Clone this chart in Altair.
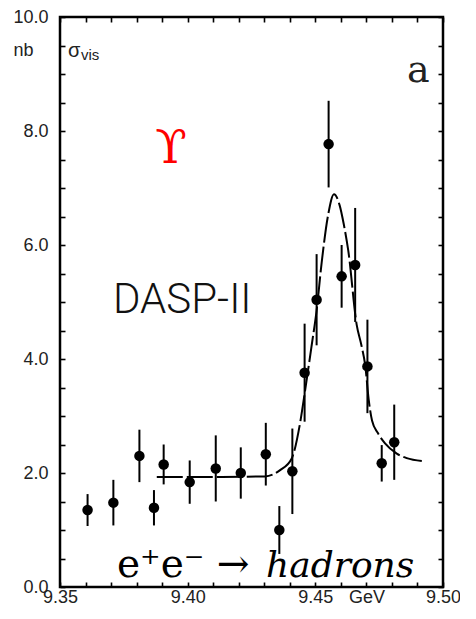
import altair as alt
import pandas as pd

# measured points (mass in GeV, visible cross section in nb, error)
mass = [9.3608, 9.3709, 9.3811, 9.3868, 9.3906, 9.4008, 9.4110, 9.4208, 9.4306,
        9.4359, 9.4410, 9.4458, 9.4505, 9.4552, 9.4603, 9.4656, 9.4704, 9.4760, 9.4809]
sigma = [1.35, 1.48, 2.30, 1.39, 2.15, 1.84, 2.08, 2.00, 2.33,
         1.00, 2.03, 3.76, 5.04, 7.77, 5.45, 5.65, 3.87, 2.17, 2.54]
err = [0.28, 0.40, 0.46, 0.31, 0.35, 0.38, 0.58, 0.45, 0.55,
       0.42, 0.75, 0.86, 0.80, 0.76, 0.55, 1.00, 0.82, 0.32, 0.66]

# fitted curve
fit_mass = [9.3879, 9.4100, 9.4303, 9.4362, 9.4407, 9.4440, 9.4460, 9.4486, 9.4505,
            9.4525, 9.4551, 9.4573, 9.4595, 9.4612, 9.4629, 9.4662, 9.4680, 9.4695,
            9.4710, 9.4722, 9.4745, 9.4773, 9.4819, 9.4858, 9.4917]
fit_sigma = [1.93, 1.93, 1.94, 2.05, 2.25, 2.87, 3.45, 4.25, 4.85,
             5.70, 6.55, 6.89, 6.70, 6.35, 5.90, 4.60, 4.25, 3.90,
             3.25, 2.92, 2.70, 2.52, 2.34, 2.26, 2.21]

x_ticks = [9.35, 9.36, 9.37, 9.38, 9.39, 9.40, 9.41, 9.42, 9.43, 9.44,
           9.45, 9.46, 9.47, 9.48, 9.49, 9.50]
y_ticks = [0.0, 0.5, 1.0, 1.5, 2.0, 2.5, 3.0, 3.5, 4.0, 4.5, 5.0, 5.5, 6.0, 6.5,
           7.0, 7.5, 8.0, 8.5, 9.0, 9.5, 10.0]

pts = pd.DataFrame({"m": mass, "s": sigma, "e": err})
pts["lo"] = pts["s"] - pts["e"]
pts["hi"] = pts["s"] + pts["e"]
fit = pd.DataFrame({"m": fit_mass, "s": fit_sigma})

W, H = 383, 570
XDOM = [9.35, 9.50]
YDOM = [0, 10]
AXFONT = "Liberation Sans"

xs = alt.Scale(domain=XDOM, nice=False, zero=False)
ys = alt.Scale(domain=YDOM, nice=False, zero=False)

tick_common = dict(domain=False, grid=False, offset=-5, tickSize=5, tickWidth=1.6,
                   tickColor="black")

NB = "'\u00a0\u00a0\u00a0\u00a0'"
x_bottom = alt.Axis(orient="bottom", values=x_ticks, title=None,
                    labelExpr=(f"round(datum.value*100) == 950 ? format(datum.value, '.2f') + '\u00a0' : "
                               f"(abs(round(datum.value*100) % 5) == 0 ? {NB} + format(datum.value, '.2f') : "
                               f"(round(datum.value*100) == 947 ? {NB} + 'GeV' : ''))"),
                    labelFont=AXFONT, labelFontSize=18, labelColor="#222",
                    labelPadding=1, labelFlush=False, labelOverlap=False,
                    **tick_common)
y_left = alt.Axis(orient="left", values=y_ticks, title="nb", titleAngle=0,
                  titleX=-52, titleY=38, titleAlign="left", titleBaseline="alphabetic",
                  titleFont=AXFONT, titleFontSize=18, titleFontWeight="normal", titleColor="#222",
                  labelExpr="abs(round(datum.value*2) % 4) == 0 ? format(datum.value, '.1f') : ''",
                  labelFont=AXFONT, labelFontSize=18, labelColor="#222",
                  labelPadding=12, labelFlush=False, labelOverlap=False, labelBaseline="middle",
                  **tick_common)
x_top = alt.Axis(orient="top", values=x_ticks, title=None, labels=False, **tick_common)
y_right = alt.Axis(orient="right", values=y_ticks, title=None, labels=False, **tick_common)

bars = alt.Chart(pts).mark_rule(color="black", strokeWidth=2).encode(
    x=alt.X("m:Q", scale=xs, axis=x_bottom),
    y=alt.Y("lo:Q", scale=ys, axis=y_left),
    y2="hi:Q",
)

dots = alt.Chart(pts).mark_point(filled=True, shape="circle", size=110, color="black",
                                 opacity=1).encode(
    x=alt.X("m:Q", scale=xs, axis=None),
    y=alt.Y("s:Q", scale=ys, axis=None),
)

curve = alt.Chart(fit).mark_line(color="black", strokeWidth=2, strokeDash=[26, 4],
                                 interpolate="monotone").encode(
    x=alt.X("m:Q", scale=xs, axis=x_top),
    y=alt.Y("s:Q", scale=ys, axis=y_right),
)

def label(text, x, y, size, font, color="black", style="normal", weight="normal",
          align="left", baseline="alphabetic"):
    return alt.Chart(pd.DataFrame({"t": [text]})).mark_text(
        font=font, fontSize=size, fontStyle=style, fontWeight=weight, color=color,
        align=align, baseline=baseline,
    ).encode(text="t:N", x=alt.value(x), y=alt.value(y))

texts = [
    label("σ", 8, 40, 20, AXFONT, color="#222"),
    label("vis", 21, 43, 15, AXFONT, color="#222"),
    label("a", 347, 65, 38, "DejaVu Serif", color="#222"),
    label("ϒ", 111, 146, 46, "DejaVu Serif", color="#ff0000", align="center"),
    label("DASP-II", 53, 296, 42, "Roboto", color="#111", weight=300),
    label("e⁺e⁻ →", 57, 560, 39, "DejaVu Serif", color="black"),
    label("hadrons", 206, 560, 36, "DejaVu Serif", color="black", style="italic"),
]

chart = alt.layer(bars, dots, curve, *texts).resolve_scale(
    x="independent", y="independent"
).properties(
    width=W, height=H,
    autosize=alt.AutoSizeParams(type="none"),
    padding={"left": 52, "top": 9, "right": 17, "bottom": 20},
).configure(
    background="white"
).configure_view(
    stroke="black", strokeWidth=2.5, fill="white"
)

chart.save("out.html", embed_options={"renderer": "svg", "actions": False})
